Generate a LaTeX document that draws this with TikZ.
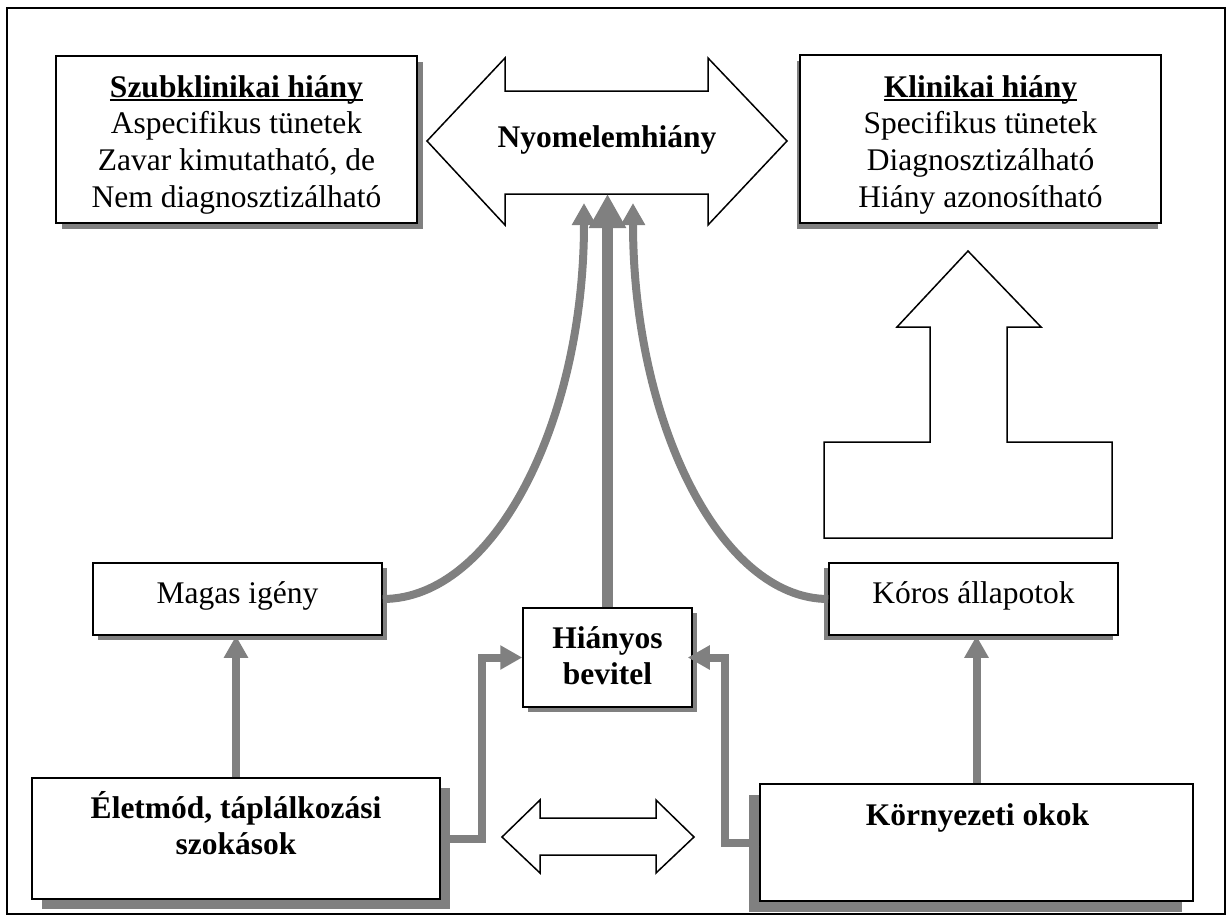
\documentclass[tikz,border=0pt]{standalone}
\usepackage{fontspec}
\setmainfont{Liberation Serif}
\usetikzlibrary{arrows.meta,shadows}
\definecolor{cg}{RGB}{128,128,128}
\newcommand\ulx[1]{\setbox0\hbox{#1}\rlap{\rule[-4pt]{\wd0}{2pt}}\box0}
\newcommand\topfix{\rule{0pt}{30pt}}
\begin{document}
\begin{tikzpicture}[x=1pt,y=-1pt,
  every node/.style={font=\fontsize{31.5}{36.7}\selectfont},
  bf/.style={font=\fontsize{31.5}{36.7}\selectfont\bfseries},
  box/.style={draw=black, line width=1.5pt, fill=white, inner sep=0pt},
  shd/.style 2 args={drop shadow={shadow xshift=#1, shadow yshift=#2, opacity=1, fill=cg}},
  txt/.style={inner sep=0pt, align=center},
  outline/.style={draw=black, line width=1.5pt, fill=white, line join=miter},
  conn/.style={draw=cg, line width=8pt},
  tipS/.style={-{Triangle[width=23pt,length=22pt]}},
  tipL/.style={-{Triangle[width=35pt,length=34pt]}}]
\useasboundingbox (0,0) rectangle (1229,918);
\draw[line width=1.5pt] (7,8) rectangle (1225,914);

% top boxes
\node[box, shd={6pt}{-6pt}, minimum width=361pt, minimum height=167pt] (sub) at (236.5,139.5) {};
\node[txt, anchor=north] (subT) at (236.5,67) {\topfix\textbf{\ulx{Szubklinikai hiány}}\\Aspecifikus tünetek\\Zavar kimutatható, de\\Nem diagnosztizálható};

\node[box, shd={-3pt}{-6pt}, minimum width=361pt, minimum height=168pt] (kli) at (980.5,139) {};
\node[txt, anchor=north] (kliT) at (980.5,67) {\topfix\textbf{\ulx{Klinikai hiány}}\\Specifikus tünetek\\Diagnosztizálható\\Hiány azonosítható};

% central double arrow
\draw[outline] (427,141) -- (505,58) -- (505,91) -- (708,91) -- (708,58) -- (787,141)
  -- (708,225) -- (708,194) -- (505,194) -- (505,225) -- cycle;
\node[bf, inner sep=0pt, anchor=base] (nyom) at (607,147) {Nyomelemhiány};
\coordinate (nyomL) at (584,203);
\coordinate (nyomC) at (607.5,194);
\coordinate (nyomR) at (633,203);

% big open up arrow
\draw[outline] (968,251) -- (1041,327) -- (1007,327) -- (1007,442) -- (1112,442) -- (1112,538)
  -- (824,538) -- (824,442) -- (930,442) -- (930,327) -- (897,327) -- cycle;

% middle boxes
\node[box, shd={5pt}{-5pt}, minimum width=289pt, minimum height=72pt] (magas) at (237.5,599) {};
\node[inner sep=0pt, anchor=base] (magasT) at (237.5,603) {Magas igény};

\node[box, shd={5pt}{-5pt}, minimum width=169pt, minimum height=99pt] (hiany) at (607.5,657.5) {};
\node[txt, bf, anchor=north] (hianyT) at (607.5,618) {\topfix Hiányos\\bevitel};

\node[box, shd={-5pt}{-5pt}, minimum width=289pt, minimum height=72pt] (koros) at (973.5,599) {};
\node[inner sep=0pt, anchor=base] (korosT) at (973.5,603) {Kóros állapotok};

% bottom boxes
\node[box, shd={10pt}{-10pt}, minimum width=408pt, minimum height=121pt] (elet) at (236,838.5) {};
\node[txt, bf, anchor=north] (eletT) at (236,788) {\topfix Életmód, táplálkozási\\szokások};

\node[box, shd={-11pt}{-11pt}, minimum width=433pt, minimum height=117pt] (korny) at (976.5,842.5) {};
\node[bf, inner sep=0pt, anchor=base] (kornyT) at (977.5,825) {Környezeti okok};

% small double arrow
\draw[outline] (502,837) -- (540,800) -- (540,818) -- (656,818) -- (656,800) -- (694,837)
  -- (656,873) -- (656,855) -- (540,855) -- (540,873) -- cycle;

% connectors
\draw[conn, tipS] (elet.north) -- (elet.north |- magas.south);
\draw[conn, tipS] (korny.north) -- (korny.north |- koros.south);
\draw[conn, tipS] (elet.east) -- (482,838.5) |- (hiany.west);
\draw[conn, tipS, shorten >=-5pt] (korny.west) -- (725,842.5) |- (hiany.east);
\draw[draw=cg, line width=11pt, tipL] (hiany.north) -- (nyomC);
\draw[conn, tipS] (magas.east) .. controls (495,599) and (584,421) .. (nyomL);
\draw[conn, tipS] (koros.west) .. controls (720,599) and (633,421) .. (nyomR);
\end{tikzpicture}
\end{document}
